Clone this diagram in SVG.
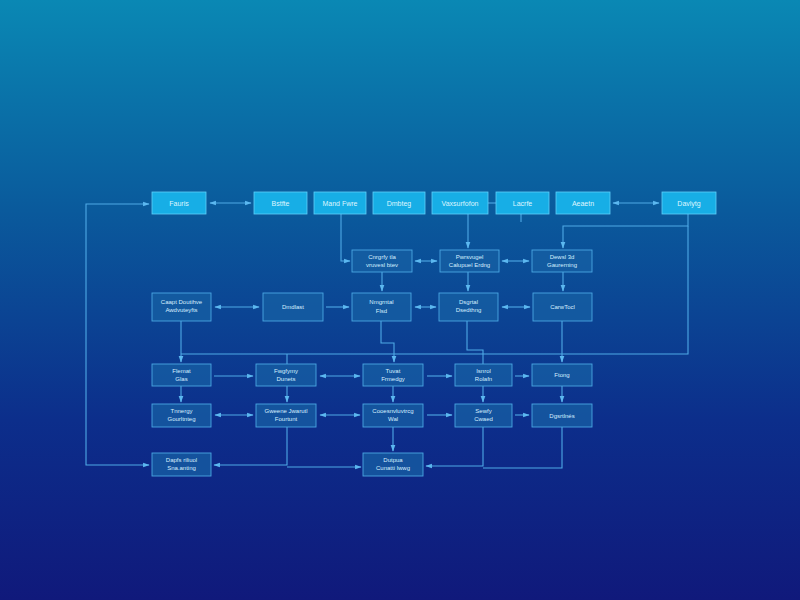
<svg xmlns="http://www.w3.org/2000/svg" width="800" height="600" viewBox="0 0 800 600">
<defs>
<linearGradient id="bg" x1="0" y1="0" x2="0" y2="1">
<stop offset="0" stop-color="#0a88b4"/>
<stop offset="0.35" stop-color="#0a5a9c"/>
<stop offset="0.7" stop-color="#0c2e8b"/>
<stop offset="1" stop-color="#10197b"/>
</linearGradient>
<marker id="ah" viewBox="0 0 10 10" refX="9" refY="5" markerWidth="6" markerHeight="6" orient="auto-start-reverse">
<path d="M0,1.5 L10,5 L0,8.5 z" fill="#5cb8f0"/>
</marker>
<style>
.top rect{fill:#17aee6;stroke:#5fd0fa;stroke-width:0.8}
.top text{fill:#dff6ff;font-family:"Liberation Sans",Arial,sans-serif;font-size:7px;text-anchor:middle}
.nd rect{fill:#1760a4;fill-opacity:0.75;stroke:#4aa6e2;stroke-width:0.9}
.nd text{fill:#d6efff;font-family:"Liberation Sans",Arial,sans-serif;font-size:6px;text-anchor:middle}
#connectors path,#connectors line{fill:none;stroke:#4fa9e6;stroke-width:1.1}
.a{marker-end:url(#ah)}
.b{marker-start:url(#ah);marker-end:url(#ah)}
</style>
</defs>
<rect width="800" height="600" fill="url(#bg)"/>

<g id="connectors">
<!-- top row -->
<path class="b" d="M149,465 H86 V204 H149"/>
<line class="b" x1="210" y1="203" x2="251" y2="203"/>
<line x1="488" y1="203" x2="496" y2="203"/>
<line class="b" x1="613" y1="203" x2="659" y2="203"/>
<path class="a" d="M341,214 V261 H350"/>
<line class="a" x1="468" y1="214" x2="468" y2="248"/>
<path class="a" d="M688,214 V226 H563 V248"/>
<path d="M521,214 V222"/>
<!-- row 2 -->
<line class="b" x1="415" y1="261" x2="437" y2="261"/>
<line class="b" x1="502" y1="261" x2="529" y2="261"/>
<line class="a" x1="382" y1="272" x2="382" y2="291"/>
<line class="a" x1="468" y1="272" x2="468" y2="291"/>
<line class="a" x1="563" y1="272" x2="563" y2="291"/>
<!-- row 3 -->
<line class="b" x1="215" y1="307" x2="259" y2="307"/>
<line class="a" x1="326" y1="307" x2="349" y2="307"/>
<line class="b" x1="415" y1="307" x2="436" y2="307"/>
<line class="b" x1="502" y1="307" x2="530" y2="307"/>
<path class="a" d="M181,321 V362"/>
<path d="M688,226 V354 H181"/>
<path d="M287,354 V364"/>
<path class="a" d="M381,321 V343 H394 V362"/>
<path d="M467,321 V350 H483 V364"/>
<path class="a" d="M562,321 V362"/>
<!-- row 4 -->
<line class="a" x1="214" y1="376" x2="253" y2="376"/>
<line class="b" x1="320" y1="376" x2="360" y2="376"/>
<line class="a" x1="427" y1="376" x2="452" y2="376"/>
<line class="a" x1="515" y1="376" x2="529" y2="376"/>
<line class="a" x1="181" y1="386" x2="181" y2="402"/>
<line class="a" x1="287" y1="386" x2="287" y2="402"/>
<line class="a" x1="393" y1="386" x2="393" y2="402"/>
<line class="a" x1="483" y1="386" x2="483" y2="402"/>
<line class="a" x1="562" y1="386" x2="562" y2="402"/>
<!-- row 5 -->
<line class="b" x1="215" y1="415" x2="253" y2="415"/>
<line class="b" x1="320" y1="415" x2="360" y2="415"/>
<line class="a" x1="427" y1="415" x2="452" y2="415"/>
<line class="a" x1="515" y1="415" x2="529" y2="415"/>
<path class="a" d="M287,427 V465 H214"/>
<line class="a" x1="287" y1="467" x2="361" y2="467"/>
<line class="a" x1="393" y1="427" x2="393" y2="451"/>
<path class="a" d="M483,427 V466 H426"/>
<path d="M562,427 V468 H483"/>
</g>

<g id="n1" class="top"><rect x="152" y="192" width="54" height="22"/><text x="179" y="206">Fauris</text></g>
<g id="n2" class="top"><rect x="254" y="192" width="53" height="22"/><text x="280.5" y="206">Bstfte</text></g>
<g id="n3" class="top"><rect x="314" y="192" width="52" height="22"/><text x="340" y="206">Mand Fwre</text></g>
<g id="n4" class="top"><rect x="373" y="192" width="52" height="22"/><text x="399" y="206">Dmbteg</text></g>
<g id="n5" class="top"><rect x="432" y="192" width="56" height="22"/><text x="460" y="206">Vaxsurfofon</text></g>
<g id="n6" class="top"><rect x="496" y="192" width="53" height="22"/><text x="522.5" y="206">Lacrfe</text></g>
<g id="n7" class="top"><rect x="556" y="192" width="54" height="22"/><text x="583" y="206">Aeaetn</text></g>
<g id="n8" class="top"><rect x="662" y="192" width="54" height="22"/><text x="689" y="206">Davlytg</text></g>

<g id="r2a" class="nd"><rect x="352" y="250" width="60" height="22"/><text x="382" y="259">Cnrgrfy tla</text><text x="382" y="267">vruvesl  btev</text></g>
<g id="r2b" class="nd"><rect x="440" y="250" width="59" height="22"/><text x="469.5" y="259">Pwrsvugel</text><text x="469.5" y="267">Calupuel Erdng</text></g>
<g id="r2c" class="nd"><rect x="532" y="250" width="60" height="22"/><text x="562" y="259">Dewsl 3d</text><text x="562" y="267">Gaurerning</text></g>

<g id="r3a" class="nd"><rect x="152" y="293" width="59" height="28"/><text x="181.5" y="304">Caapt Doutihve</text><text x="181.5" y="312">Awdvuteyfts</text></g>
<g id="r3b" class="nd"><rect x="263" y="293" width="60" height="28"/><text x="293" y="309">Dmdlast</text></g>
<g id="r3c" class="nd"><rect x="352" y="293" width="59" height="28"/><text x="381.5" y="304">Nmgrntal</text><text x="381.5" y="313">Flsd</text></g>
<g id="r3d" class="nd"><rect x="439" y="293" width="59" height="28"/><text x="468.5" y="304">Dsgrtal</text><text x="468.5" y="312">Dsedthng</text></g>
<g id="r3e" class="nd"><rect x="533" y="293" width="59" height="28"/><text x="562.5" y="309">CarwTocl</text></g>

<g id="r4a" class="nd"><rect x="152" y="364" width="59" height="22"/><text x="181.5" y="373">Flemat</text><text x="181.5" y="381">Glas</text></g>
<g id="r4b" class="nd"><rect x="256" y="364" width="60" height="22"/><text x="286" y="373">Fwgfymy</text><text x="286" y="381">Dunets</text></g>
<g id="r4c" class="nd"><rect x="363" y="364" width="60" height="22"/><text x="393" y="373">Tuvat</text><text x="393" y="381">Frmedgy</text></g>
<g id="r4d" class="nd"><rect x="455" y="364" width="57" height="22"/><text x="483.5" y="373">Isnrol</text><text x="483.5" y="381">Rolafn</text></g>
<g id="r4e" class="nd"><rect x="532" y="364" width="60" height="22"/><text x="562" y="377">Ftong</text></g>

<g id="r5a" class="nd"><rect x="152" y="404" width="59" height="23"/><text x="181.5" y="413">Tnnergy</text><text x="181.5" y="421">Gourltnteg</text></g>
<g id="r5b" class="nd"><rect x="256" y="404" width="60" height="23"/><text x="286" y="413">Gweene Jwarutl</text><text x="286" y="421">Fourtunt</text></g>
<g id="r5c" class="nd"><rect x="363" y="404" width="60" height="23"/><text x="393" y="413">Cooesnvluvtrcg</text><text x="393" y="421">Wal</text></g>
<g id="r5d" class="nd"><rect x="455" y="404" width="57" height="23"/><text x="483.5" y="413">Sewfy</text><text x="483.5" y="421">Cwaed</text></g>
<g id="r5e" class="nd"><rect x="532" y="404" width="60" height="23"/><text x="562" y="418">Dgsrtlnés</text></g>

<g id="r6a" class="nd"><rect x="152" y="453" width="59" height="23"/><text x="181.5" y="462">Dapfs riliuol</text><text x="181.5" y="470">Sna.anting</text></g>
<g id="r6b" class="nd"><rect x="363" y="453" width="60" height="23"/><text x="393" y="462">Dutpua</text><text x="393" y="470">Cunatti lwwg</text></g>
</svg>
